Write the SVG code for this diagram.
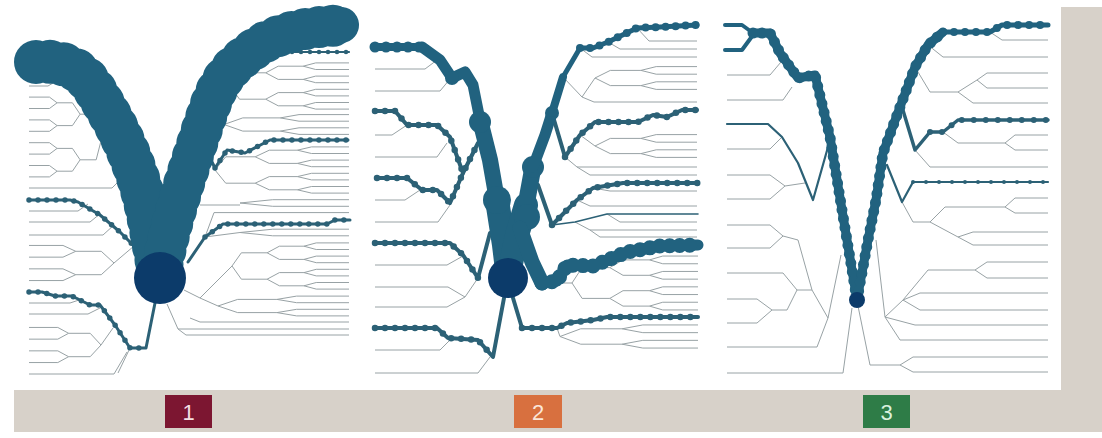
<svg xmlns="http://www.w3.org/2000/svg" width="1102" height="438" viewBox="0 0 1102 438">
<style>
.t{fill:none;stroke:#98a2a5;stroke-width:1;vector-effect:non-scaling-stroke}
.m{fill:none;stroke:#2c6176;stroke-linejoin:round;stroke-linecap:round}
.md{fill:none;stroke:#2c6176;stroke-linecap:round}
.b{fill:none;stroke:#21627f;stroke-linejoin:round;stroke-linecap:round}
.bd{fill:none;stroke:#21627f;stroke-linecap:round}
.blob{fill:#21627f}
.root{fill:#0c3b6a}
.gray{fill:#d7d1c9}
.lbl{font-family:"Liberation Sans",Arial,sans-serif;font-size:22px;text-anchor:middle}
</style>
<defs>
<path id="t2" class="t" vector-effect="non-scaling-stroke" d="M0 0L0.3 -0.5H1M0 0L0.3 0.5H1"/>
<path id="t4" class="t" vector-effect="non-scaling-stroke" d="M0 0L0.15 -1H0.45L0.6 -1.5H1M0.45 -1L0.6 -0.5H1M0 0L0.15 1H0.45L0.6 0.5H1M0.45 1L0.6 1.5H1"/>
<g id="t8"><path class="t" vector-effect="non-scaling-stroke" d="M0 0L0.08 -2H0.3M0 0L0.08 2H0.3"/><use href="#t4" transform="translate(0.3,-2) scale(0.7,1)"/><use href="#t4" transform="translate(0.3,2) scale(0.7,1)"/></g>
</defs>
<rect width="1102" height="438" fill="#ffffff"/>
<g id="frame">
<rect class="gray" x="14" y="390" width="1088" height="42"/>
<rect class="gray" x="1061" y="7" width="41" height="383"/>
</g>

<g id="panel1">
<g id="p1-thin">
<use href="#t8" transform="translate(102,137) scale(-73,11.4)"/>
<use href="#t4" transform="translate(114,263) scale(-85,11.7)"/>
<use href="#t4" transform="translate(101,345) scale(-72,11.7)"/>
<path class="t" d="M29 86H48L58 80M29 188H112L122 178M29 211H78L88 204M29 222H90L101 213M29 235H103L114 225M114 263L134 246M29 303H70L82 299M29 314H88L100 308M101 345L113 328M29 374H114L127 352M130 348L118 373"/>
<use href="#t8" transform="translate(230,86) scale(119,6.6)"/>
<use href="#t4" transform="translate(224,124.5) scale(125,6.6)"/>
<use href="#t8" transform="translate(215,170) scale(134,6.6)"/>
<use href="#t2" transform="translate(240,203) scale(109,6.6)"/>
<use href="#t2" transform="translate(240,232.5) scale(109,6.6)"/>
<use href="#t8" transform="translate(232,266) scale(117,6.6)"/>
<use href="#t4" transform="translate(218,306) scale(131,6.6)"/>
<path class="t" d="M200 205H240M205 237L214 212.6H349M205 237L240 232.5M200 298L232 266M200 298L218 306M184 290L200 298M167 304L178 329H349M178 329L186 335H349M190 318L200 322H349"/>
</g>
<g id="p1-paths">
<path class="m" stroke-width="3" d="M29 200H70L78 202L100 215L120 232L133 245"/>
<path class="md" stroke-width="5.5" stroke-dasharray="0 9" d="M29 200H70L78 202L100 215L120 232L133 245"/>
<path class="m" stroke-width="3" d="M29 292H42L55 296H72L90 305H100L115 325L130 348H146L155 303"/>
<path class="md" stroke-width="5.5" stroke-dasharray="0 9" d="M29 292H42L55 296H72L90 305H100L115 325L130 348H146"/>
<path class="m" stroke-width="3" d="M188 262L205 237L223 224H327L335 220H350"/>
<path class="md" stroke-width="5.5" stroke-dasharray="0 9" d="M205 237L223 224H327L335 220H350"/>
<path class="m" stroke-width="3" d="M205 148L215 168L227 150L245 153L270 140H348"/>
<path class="md" stroke-width="5.5" stroke-dasharray="0 9" d="M215 168L227 150L245 153L270 140H348"/>
<path class="m" stroke-width="2.2" d="M280 50L292 52H349"/>
<path class="md" stroke-width="4.5" stroke-dasharray="0 9" d="M292 52H349"/>
</g>
<g id="p1-band">
<path class="b" stroke-width="36" d="M36 62C60 60 80 66 95 90S125 140 137 175S152 240 160 278"/>
<path class="bd" stroke-width="44" stroke-dasharray="0 14" d="M36 62C60 60 80 66 95 90S125 140 137 175S152 240 160 278"/>
<path class="b" stroke-width="36" d="M160 278C168 230 185 180 200 135S220 75 250 52S310 28 341 25"/>
<path class="bd" stroke-width="42" stroke-dasharray="0 14" d="M160 278C168 230 185 180 200 135S220 75 250 52S310 28 341 25"/>
</g>
<circle id="p1-root" class="root" cx="160" cy="278" r="26"/>
</g>

<g id="panel2">
<g id="p2-thin">
<path class="t" d="M375 69H425L437 60M375 91H440L450 79M375 135H392L407 125M375 157H437L447 143M375 200H405L420 190M375 222H438L450 205M375 265H447L463 256M375 287H448L465 297L478 278M375 307H447L465 297M375 350H440L450 340M375 373H478L490 357"/>
<path class="t" d="M637 28L649 41H697M608 42L620 49H697M580 48L592 57H697M563 77L582 97L595 78M582 97L594 102H697M580 135L595 146M565 157L577 167H697M577 167L590 175H697M593 188L610 191H697M577 200L590 206H697M607 214L620 222H697M575 222L590 230H697M590 230L600 237H697M557 283H572M557 328L560 336.5"/>
<use href="#t4" transform="translate(595,78) scale(102,7.6)"/>
<use href="#t4" transform="translate(595,146) scale(102,7.6)"/>
<use href="#t8" transform="translate(572,283) scale(126,7.7)"/>
<use href="#t4" transform="translate(560,336.5) scale(138,7.7)"/>
</g>
<g id="p2-paths">
<path class="m" stroke-width="4" d="M375 111H395L407 125H437L450 137L463 173L478 143"/>
<path class="md" stroke-width="6.5" stroke-dasharray="0 10" d="M375 111H395L407 125H437L450 137L463 173L478 143"/>
<path class="m" stroke-width="4" d="M377 178H407L422 190H437L450 203L463 173"/>
<path class="md" stroke-width="6.5" stroke-dasharray="0 10" d="M377 178H407L422 190H437L450 203L463 173"/>
<path class="m" stroke-width="4" d="M375 243H450L463 255L478 278L490 233"/>
<path class="md" stroke-width="6.5" stroke-dasharray="0 10" d="M375 243H450L463 255L478 278"/>
<path class="m" stroke-width="4" d="M375 328H437L448 338L478 340L493 357L504 298"/>
<path class="md" stroke-width="6.5" stroke-dasharray="0 10" d="M375 328H437L448 338L478 340L493 357"/>
<path class="m" stroke-width="4" d="M513 298L522 328H557L567 323L593 320L607 317H698"/>
<path class="md" stroke-width="6.5" stroke-dasharray="0 10" d="M522 328H557L567 323L593 320L607 317H698"/>
<path class="m" stroke-width="4" d="M552 113L565 157L580 135L595 122H638L653 115L667 117L682 110H697"/>
<path class="md" stroke-width="6.5" stroke-dasharray="0 10" d="M565 157L580 135L595 122H638L653 115L667 117L682 110H697"/>
<path class="m" stroke-width="4" d="M538 185L552 225L577 200L593 188L623 183H698"/>
<path class="md" stroke-width="6.5" stroke-dasharray="0 10" d="M552 225L577 200L593 188L623 183H698"/>
<path class="m" stroke-width="1.6" d="M552 225L575 222L607 214H698"/>
</g>
<g id="p2-band">
<path class="b" stroke-width="8" d="M375 47H422"/>
<path class="bd" stroke-width="11" stroke-dasharray="0 11" d="M375 47H422"/>
<path class="b" stroke-width="11" d="M422 47L440 60L452 78L465 72L473 85L480 120"/>
<path class="b" stroke-width="16" d="M480 120L490 160L497 200"/>
<path class="b" stroke-width="24" d="M497 200L504 245L508 278"/>
<circle class="blob" cx="452" cy="78" r="7"/>
<circle class="blob" cx="480" cy="122" r="11"/>
<circle class="blob" cx="497" cy="200" r="14"/>
<path class="b" stroke-width="24" d="M508 278L517 235L526 205"/>
<path class="b" stroke-width="17" d="M526 205L533 167"/>
<circle class="blob" cx="527" cy="217" r="13"/>
<circle class="blob" cx="533" cy="167" r="11"/>
<path class="b" stroke-width="11" d="M533 167L545 135L552 113"/>
<circle class="blob" cx="552" cy="113" r="7"/>
<path class="b" stroke-width="8" d="M552 113L563 77"/>
<path class="b" stroke-width="5" d="M563 77L580 48H593L608 42L637 28L660 27L697 25"/>
<path class="bd" stroke-width="8" stroke-dasharray="0 10" d="M580 48H593L608 42L637 28L660 27L697 25"/>
<path class="b" stroke-width="15" d="M520 228L532 262L542 283"/>
<path class="b" stroke-width="11" d="M542 283L557 281L567 265L593 266L627 252L660 246L698 245"/>
<path class="bd" stroke-width="15" stroke-dasharray="0 10" d="M542 283L557 281L567 265L593 266L627 252L660 246L698 245"/>
</g>
<circle id="p2-root" class="root" cx="508" cy="278" r="20"/>
</g>

<g id="panel3">
<g id="p3-thin">
<path class="t" d="M727 75H770L781 62M727 100H783L792 87M727 149H770L782 137M727 175H770L785 186M727 199H770L785 186L805 183M727 225H770L783 236M727 248H770L783 236L798 240L812 290M727 273H783L797 290L812 290L828 318L841 255M727 299H757L772 310M727 323H757L772 310H787L797 290M727 347H817L828 318M727 373H843L852 308"/>
<path class="t" d="M990 32L1002 40H1048M928 45L943 57H1048M915 67L930 92H958L977 80L987 73H1048M977 80L987 88H1048M958 92L973 103H1048M943 132L958 143H1005L1015 135H1048M1005 143L1015 150H1048M915 150L930 167H1048M902 202L913 222H930L945 207H1005L1015 198H1048M1005 207L1015 213H1048M930 222L958 237L973 232H1048M958 237L973 245H1048M876 240L885 317L903 300L928 270H975L987 262H1048M975 270L987 278H1048M903 300L920 293H1048M903 300L920 310H1048M885 317L915 325H1048M885 317L900 340H1048M858 306L870 365H900L913 357H1048M900 365L913 372H1048"/>
</g>
<g id="p3-paths">
<path class="m" stroke-width="2.2" d="M727 124H768L782 137L798 163L813 200L828 147"/>
<path class="m" stroke-width="3.5" d="M902 107L915 150L930 132H943L958 120H1048"/>
<path class="md" stroke-width="6" stroke-dasharray="0 12" d="M930 132H943L958 120H1048"/>
<path class="m" stroke-width="2.2" d="M887 165L902 202L913 182H1048"/>
<path class="md" stroke-width="4" stroke-dasharray="0 13" d="M913 182H1048"/>
</g>
<g id="p3-band">
<path class="b" stroke-width="4" d="M725 25H742L753 33"/>
<path class="b" stroke-width="4" d="M725 50H742L753 35"/>
<path class="b" stroke-width="9" d="M753 33H770L780 53L798 78L815 75L830 137L842 210L857 300"/>
<path class="bd" stroke-width="11" stroke-dasharray="0 9" d="M753 33H770L780 53L798 78L815 75L830 137L842 210L857 300"/>
<path class="b" stroke-width="9" d="M857 300L868 240L876 200L883 153L900 107L915 67L928 45L943 32"/>
<path class="bd" stroke-width="11" stroke-dasharray="0 9" d="M857 300L868 240L876 200L883 153L900 107L915 67L928 45L943 32"/>
<path class="b" stroke-width="5" d="M943 32H990L1002 25H1048"/>
<path class="bd" stroke-width="8" stroke-dasharray="0 11" d="M943 32H990L1002 25H1048"/>
</g>
<circle id="p3-root" class="root" cx="857" cy="300" r="8"/>
</g>

<g id="labels">
<g id="label1"><rect x="165" y="395" width="47" height="33" fill="#7c1631"/><text class="lbl" x="188.5" y="420" fill="#f3dfe3">1</text></g>
<g id="label2"><rect x="514" y="395" width="48" height="33" fill="#d8703f"/><text class="lbl" x="538" y="420" fill="#fbe6d8">2</text></g>
<g id="label3"><rect x="863" y="395" width="47" height="33" fill="#2e7c47"/><text class="lbl" x="886.5" y="420" fill="#d9f1de">3</text></g>
</g>
</svg>
